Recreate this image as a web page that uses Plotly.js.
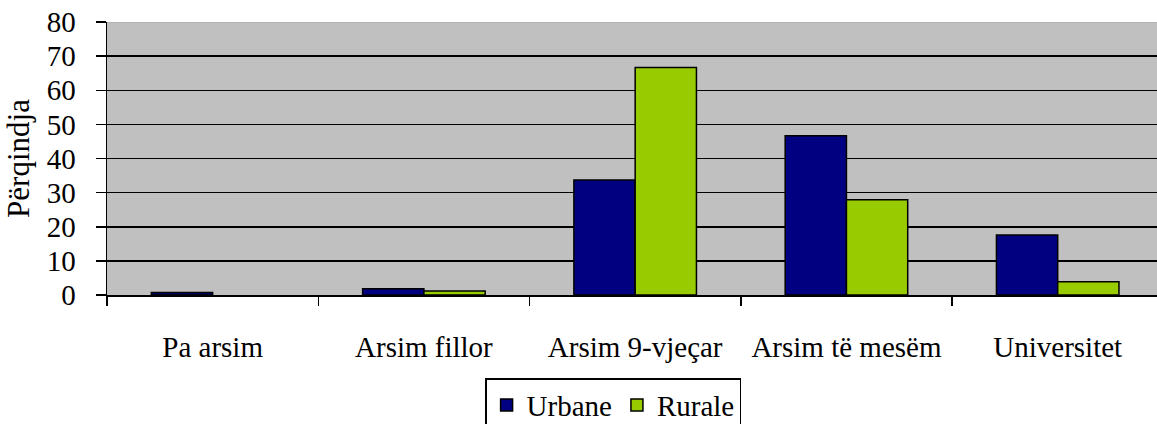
<!DOCTYPE html>
<html>
<head>
<meta charset="utf-8">
<script src="https://cdn.plot.ly/plotly-3.0.1.min.js"></script>
<style>html,body{margin:0;padding:0;overflow:hidden;background:#fff}</style>
</head>
<body>
<div id="chart" style="width:1157px;height:424px"></div>
<script>
const categories = ["Pa arsim", "Arsim fillor", "Arsim 9-vjeçar", "Arsim të mesëm", "Universitet"];
const urbane = [0.7, 1.8, 33.7, 46.7, 17.6];
const rurale = [null, 1.2, 66.7, 27.9, 3.9];
const yTicks = [0, 10, 20, 30, 40, 50, 60, 70, 80];

const fontFam = "Liberation Serif";

const traces = [
  {type: "bar", name: "Urbane", x: categories, y: urbane,
   marker: {color: "#000080", line: {color: "#000000", width: 1.5}}},
  {type: "bar", name: "Rurale", x: categories, y: rurale,
   marker: {color: "#99cc00", line: {color: "#000000", width: 1.5}}}
];

const layout = {
  width: 1157, height: 424,
  margin: {l: 107, r: 0, t: 22, b: 129, pad: 0, autoexpand: false},
  paper_bgcolor: "#ffffff",
  plot_bgcolor: "#c0c0c0",
  font: {family: fontFam, size: 29, color: "#000"},
  barmode: "group",
  bargap: 0.42,
  bargroupgap: 0,
  showlegend: true,
  legend: {
    orientation: "h", x: 0.482, xanchor: "center", y: -0.305, yanchor: "top",
    bgcolor: "#ffffff", bordercolor: "#000000", borderwidth: 1.5,
    font: {family: fontFam, size: 29, color: "#000"}, itemwidth: 30, tracegroupgap: 0
  },
  xaxis: {
    type: "category", range: [-0.5, 4.47], fixedrange: true,
    showline: true, linecolor: "#000", linewidth: 1.5,
    ticks: "outside", tickson: "boundaries", ticklen: 9, tickwidth: 1.5, tickcolor: "#000",
    showgrid: false, tickfont: {family: fontFam, size: 29, color: "#000"}, automargin: false,
    ticklabelstandoff: 26
  },
  yaxis: {
    range: [0, 80], tickvals: yTicks, fixedrange: true,
    showline: true, linecolor: "#000", linewidth: 1.5,
    ticks: "outside", ticklen: 10, tickwidth: 1.5, tickcolor: "#000",
    showgrid: true, gridcolor: "#000", gridwidth: 1.5, zeroline: false,
    tickfont: {family: fontFam, size: 29, color: "#000"}, automargin: false,
    ticklabelstandoff: 14,
    title: {text: "Përqindja", font: {family: fontFam, size: 31, color: "#000"}, standoff: 8}
  },
  shapes: [{type: "line", xref: "paper", yref: "y", x0: 0, x1: 1, y0: 80, y1: 80,
            line: {color: "#b0b0b0", width: 1.5}, layer: "above"}]
};

Plotly.newPlot("chart", traces, layout, {displayModeBar: false, staticPlot: true});
</script>
</body>
</html>
